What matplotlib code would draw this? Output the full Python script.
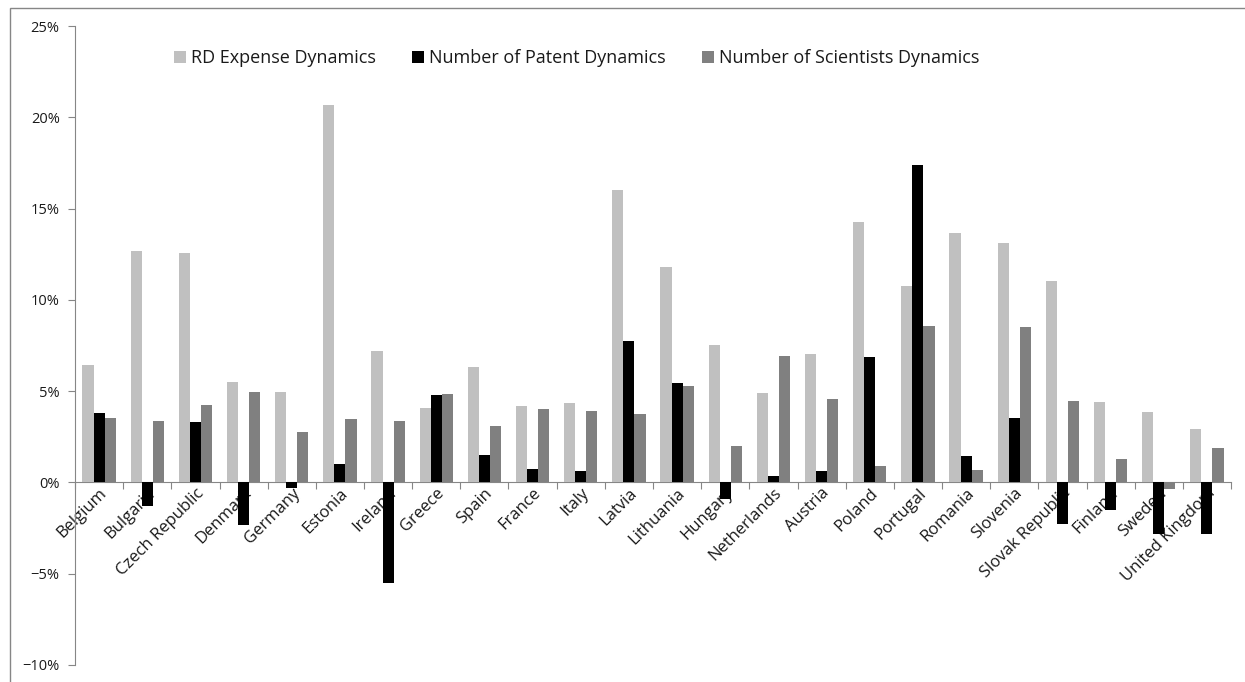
import numpy as np
import matplotlib
matplotlib.use('Agg')
import matplotlib.pyplot as plt
from matplotlib.ticker import PercentFormatter, FixedLocator
from matplotlib.patches import Rectangle

plt.rcParams['font.family'] = ['Open Sans', 'DejaVu Sans']

countries = ["Belgium", "Bulgaria", "Czech Republic", "Denmark", "Germany", "Estonia",
             "Ireland", "Greece", "Spain", "France", "Italy", "Latvia", "Lithuania",
             "Hungary", "Netherlands", "Austria", "Poland", "Portugal", "Romania",
             "Slovenia", "Slovak Republic", "Finland", "Sweden", "United Kingdom"]

rd_expense = [6.43, 12.66, 12.57, 5.52, 4.94, 20.70, 7.22, 4.08, 6.33, 4.20, 4.34, 16.02,
              11.82, 7.51, 4.92, 7.03, 14.27, 10.74, 13.67, 13.12, 11.01, 4.39, 3.88, 2.90]
patents = [3.79, -1.27, 3.31, -2.33, -0.29, 1.03, -5.49, 4.80, 1.49, 0.72, 0.65, 7.77,
           5.44, -0.91, 0.34, 0.60, 6.86, 17.36, 1.46, 3.55, -2.25, -1.51, -2.81, -2.85]
scientists = [3.53, 3.38, 4.22, 4.96, 2.76, 3.48, 3.36, 4.87, 3.09, 4.00, 3.91, 3.74,
              5.28, 1.99, 6.91, 4.56, 0.89, 8.59, 0.67, 8.54, 4.48, 1.29, -0.36, 1.89]

series = [("RD Expense Dynamics", rd_expense, "#c0c0c0"),
          ("Number of Patent Dynamics", patents, "#000000"),
          ("Number of Scientists Dynamics", scientists, "#808080")]

fig = plt.figure(figsize=(12.45, 6.82), dpi=100)
ax = fig.add_axes([75 / 1245, 1 - 665 / 682, (1231 - 75) / 1245, (665 - 26) / 682])

x = np.arange(len(countries))
w = 0.23
for i, (name, vals, col) in enumerate(series):
    ax.bar(x + (i - 1) * w, vals, width=w, color=col, label=name, zorder=3)

axis_col = "#868686"
text_col = "#1a1a1a"
ax.set_xlim(-0.5, len(countries) - 0.5)
ax.set_ylim(-10, 25)
ax.set_yticks(np.arange(-10, 26, 5))
ax.yaxis.set_major_formatter(PercentFormatter(decimals=0))
ax.tick_params(axis='y', length=5, color=axis_col, labelsize=10.5, pad=6,
               labelcolor=text_col)

# category axis sits at zero, ticks on category boundaries
ax.spines['bottom'].set_position(('data', 0))
ax.spines['bottom'].set_color(axis_col)
ax.spines['left'].set_color(axis_col)
ax.spines['top'].set_visible(False)
ax.spines['right'].set_visible(False)
ax.xaxis.set_major_locator(FixedLocator(np.arange(len(countries) + 1) - 0.5))
ax.xaxis.set_major_formatter(plt.NullFormatter())
ax.tick_params(axis='x', which='major', length=5, color=axis_col)
ax.set_xticks(x, minor=True)
ax.set_xticklabels(countries, minor=True, rotation=45, ha='right', va='top',
                   rotation_mode='anchor', fontsize=12, color=text_col)
ax.tick_params(axis='x', which='minor', length=0, pad=2)

leg = ax.legend(loc='center', bbox_to_anchor=(0.434, 0.95), ncol=3, frameon=False,
                fontsize=13, handlelength=0.65, handleheight=0.65, handletextpad=0.3,
                columnspacing=2.0)
for t in leg.get_texts():
    t.set_color(text_col)

fig.patches.append(Rectangle((10 / 1245, -0.1), 1.2, 1 - 8 / 682 + 0.1,
                             transform=fig.transFigure, fill=False,
                             edgecolor=axis_col, linewidth=1))

fig.savefig("out.png", dpi=100)
